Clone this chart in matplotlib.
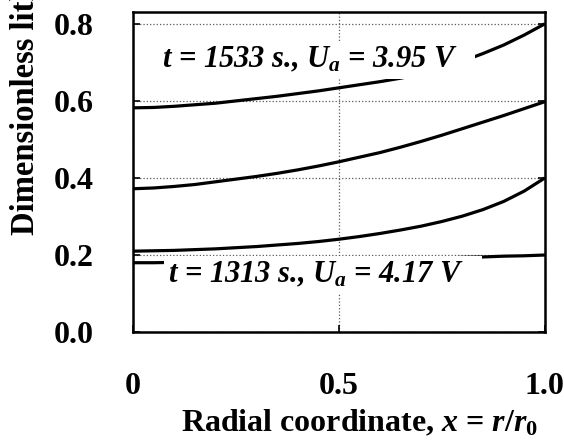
import numpy as np
import matplotlib
matplotlib.use('Agg')
import matplotlib.pyplot as plt

plt.rcParams['font.family'] = 'Liberation Serif'
plt.rcParams['font.weight'] = 'bold'
plt.rcParams['mathtext.fontset'] = 'custom'
plt.rcParams['mathtext.it'] = 'Liberation Serif:bold:italic'
plt.rcParams['mathtext.rm'] = 'Liberation Serif:bold'
plt.rcParams['mathtext.bf'] = 'Liberation Serif:bold'

# radial coordinate
x = [0.00, 0.05, 0.10, 0.15, 0.20, 0.25, 0.30, 0.35, 0.40, 0.45, 0.50,
     0.55, 0.60, 0.65, 0.70, 0.75, 0.80, 0.85, 0.90, 0.95, 1.00]

# concentration profiles (top to bottom)
c_1533 = [0.582, 0.583, 0.586, 0.590, 0.594, 0.600, 0.606, 0.612, 0.619, 0.626, 0.634,
          0.642, 0.650, 0.659, 0.670, 0.685, 0.703, 0.723, 0.745, 0.771, 0.800]
c_mid = [0.372, 0.374, 0.378, 0.383, 0.390, 0.397, 0.404, 0.412, 0.421, 0.431, 0.442,
         0.454, 0.466, 0.480, 0.495, 0.511, 0.528, 0.545, 0.562, 0.580, 0.598]
c_low = [0.210, 0.211, 0.212, 0.214, 0.216, 0.219, 0.222, 0.226, 0.230, 0.235, 0.241,
         0.248, 0.256, 0.265, 0.275, 0.287, 0.301, 0.318, 0.339, 0.366, 0.400]
c_1313 = [0.180, 0.180, 0.181, 0.181, 0.182, 0.182, 0.183, 0.184, 0.185, 0.186, 0.187,
          0.188, 0.189, 0.190, 0.191, 0.192, 0.194, 0.195, 0.197, 0.198, 0.200]

xticks = [0, 0.5, 1.0]
xtick_labels = ['0', '0.5', '1.0']
yticks = [0.0, 0.2, 0.4, 0.6, 0.8]
ytick_labels = ['0.0', '0.2', '0.4', '0.6', '0.8']

fig = plt.figure(figsize=(5.64, 4.41), dpi=100)
ax = fig.add_axes([0.236, 0.247, 0.730, 0.726])

for c in [c_1533, c_mid, c_low, c_1313]:
    ax.plot(x, c, color='black', lw=2.3, solid_capstyle='butt', zorder=2)

ax.set_xlim(0, 1)
ax.set_ylim(0, 0.831)
ax.set_xticks(xticks)
ax.set_xticklabels(xtick_labels)
ax.set_yticks(yticks)
ax.set_yticklabels(ytick_labels)
ax.tick_params(direction='in', length=5, width=1.2, labelsize=23,
               top=False, right=True)
ax.tick_params(axis='x', pad=29)
ax.tick_params(axis='y', pad=28)
for s in ax.spines.values():
    s.set_linewidth(1.8)
ax.grid(True, linestyle=':', color='0.35', linewidth=0.9)
ax.set_axisbelow(True)

box = dict(facecolor='white', edgecolor='none', pad=3)
ax.text(0.07, 0.706, r'$t$ = 1533 s., $U_a$ = 3.95 V   ', fontsize=22,
        fontstyle='italic', fontweight='bold', va='center', ha='left',
        bbox=box, zorder=3)
ax.text(0.085, 0.148, r'$t$ = 1313 s., $U_a$ = 4.17 V   ', fontsize=22,
        fontstyle='italic', fontweight='bold', va='center', ha='left',
        bbox=box, zorder=3)

fig.text(0.638, 0.041, r'Radial coordinate, $x$ = $r/r_0$', fontsize=23,
         ha='center', va='center')
fig.text(0.045, 1 - 235 / 441, 'Dimensionless lithium concentration',
         fontsize=23.5, rotation=90, ha='center', va='bottom')

fig.savefig('out.png', dpi=100)
